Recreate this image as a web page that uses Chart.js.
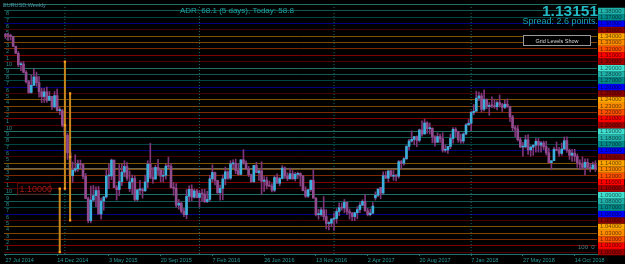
<!DOCTYPE html>
<html>
<head>
<meta charset="utf-8">
<script src="https://cdn.jsdelivr.net/npm/chart.js@4/dist/chart.umd.min.js"></script>
<style>
  html, body { margin: 0; padding: 0; background: #000; }
  canvas { display: block; }
</style>
</head>
<body>
<canvas id="chartEurusd" width="625" height="264"></canvas>
<script>
// EURUSD weekly, one candle per week from 27 Jul 2014 to 9 Dec 2018
const opens = [
  1.3428,1.3414,1.3412,1.3400,1.3243,1.3131,1.2952,1.2963,1.2832,1.2685,
  1.2515,1.2628,1.2760,1.2670,1.2526,1.2450,1.2525,1.2390,1.2455,1.2289,
  1.2465,1.2229,1.2230,
  1.2000,1.1840,1.1565,1.1205,1.1290,1.1315,1.1390,1.1380,1.1195,1.0845,
  1.0495,1.0820,1.0890,1.0970,1.0600,1.0805,1.0870,1.1200,1.1200,1.1450,
  1.1015,1.0985,1.1110,1.1260,1.1350,1.1000,1.1105,1.1160,1.0830,1.0980,
  1.0985,1.0965,1.1105,1.1385,1.1180,1.1150,1.1335,1.1295,1.1195,1.1210,
  1.1355,1.1350,1.1015,1.1005,1.0740,1.0770,1.0645,1.0590,1.0880,1.0990,
  1.0865,1.0965,
  1.0860,1.0925,1.0915,1.0795,1.0830,1.1155,1.1255,1.1130,1.0935,1.1005,
  1.1155,1.1265,1.1165,1.1390,1.1400,1.1285,1.1225,1.1455,1.1405,1.1310,
  1.1220,1.1110,1.1365,1.1250,1.1280,1.1115,1.1135,1.1050,1.1040,1.0975,
  1.1175,1.1085,1.1160,1.1325,1.1200,1.1155,1.1235,1.1155,1.1225,1.1240,
  1.1200,1.0970,1.0880,1.0985,1.1130,1.0850,1.0590,1.0590,1.0665,1.0560,
  1.0450,1.0455,
  1.0520,1.0530,1.0640,1.0700,1.0695,1.0785,1.0640,1.0615,1.0560,1.0620,
  1.0670,1.0740,1.0800,1.0650,1.0590,1.0615,1.0855,1.0895,1.1020,1.0930,
  1.1205,1.1165,1.1280,1.1195,1.1200,1.1195,1.1425,1.1400,1.1470,1.1665,
  1.1750,1.1775,1.1820,1.1760,1.1925,1.1860,1.2035,1.1945,1.1950,1.1815,
  1.1730,1.1820,1.1785,1.1605,1.1610,1.1665,1.1790,1.1935,1.1900,1.1770,
  1.1750,1.1860,1.2005,
  1.2030,1.2200,1.2220,1.2425,1.2460,1.2250,1.2405,1.2295,1.2310,1.2305,
  1.2290,1.2355,1.2320,1.2280,1.2330,1.2290,1.2130,1.1960,1.1940,1.1770,
  1.1655,1.1660,1.1770,1.1610,1.1655,1.1685,1.1745,1.1685,1.1720,1.1660,
  1.1565,1.1410,1.1440,1.1620,1.1605,1.1555,1.1625,1.1755,1.1605,1.1525,
  1.1560,1.1510,1.1405,1.1385,1.1335,1.1415,1.1335,1.1315,1.1375
];
const highs = [
  1.3445,1.3445,1.3433,1.3401,1.3245,1.3160,1.2995,1.3003,1.2860,1.2707,
  1.2791,1.2887,1.2837,1.2770,1.2580,1.2578,1.2601,1.2530,1.2456,1.2532,
  1.2570,1.2280,1.2250,
  1.2000,1.1870,1.1680,1.1420,1.1534,1.1450,1.1450,1.1390,1.1240,1.0870,
  1.1040,1.1050,1.1030,1.1035,1.0850,1.0880,1.1290,1.1390,1.1467,1.1450,
  1.1050,1.1380,1.1385,1.1440,1.1410,1.1280,1.1215,1.1200,1.0990,1.1130,
  1.1010,1.1215,1.1440,1.1715,1.1330,1.1370,1.1460,1.1300,1.1290,1.1385,
  1.1495,1.1395,1.1095,1.1080,1.0830,1.0790,1.0690,1.0985,1.1045,1.1060,
  1.0995,1.0990,
  1.0970,1.0990,1.0990,1.0960,1.1210,1.1375,1.1260,1.1130,1.1055,1.1220,
  1.1340,1.1280,1.1440,1.1455,1.1465,1.1400,1.1455,1.1615,1.1440,1.1350,
  1.1230,1.1370,1.1415,1.1300,1.1425,1.1190,1.1185,1.1120,1.1080,1.1200,
  1.1235,1.1180,1.1365,1.1345,1.1250,1.1325,1.1285,1.1255,1.1260,1.1250,
  1.1210,1.1030,1.0990,1.1140,1.1300,1.0860,1.0675,1.0700,1.0875,1.0670,
  1.0480,1.0530,
  1.0620,1.0685,1.0775,1.0775,1.0830,1.0790,1.0680,1.0625,1.0630,1.0715,
  1.0780,1.0825,1.0905,1.0690,1.0680,1.0780,1.0950,1.0995,1.1020,1.1265,
  1.1270,1.1285,1.1295,1.1295,1.1225,1.1445,1.1445,1.1490,1.1680,1.1775,
  1.1910,1.1825,1.1830,1.1940,1.2070,1.2095,1.2055,1.2035,1.1960,1.1835,
  1.1880,1.1860,1.1880,1.1690,1.1665,1.1860,1.1960,1.1960,1.1905,1.1860,
  1.1880,1.2025,1.2090,
  1.2220,1.2325,1.2535,1.2520,1.2505,1.2555,1.2415,1.2355,1.2445,1.2410,
  1.2385,1.2475,1.2345,1.2395,1.2415,1.2300,1.2155,1.1995,1.1995,1.1810,
  1.1725,1.1840,1.1850,1.1675,1.1690,1.1790,1.1790,1.1745,1.1750,1.1745,
  1.1640,1.1440,1.1655,1.1735,1.1650,1.1720,1.1815,1.1815,1.1625,1.1620,
  1.1620,1.1545,1.1455,1.1500,1.1470,1.1470,1.1400,1.1420,1.1440
];
const lows = [
  1.3366,1.3333,1.3340,1.3238,1.3131,1.2920,1.2859,1.2824,1.2667,1.2500,
  1.2502,1.2623,1.2614,1.2440,1.2357,1.2358,1.2359,1.2390,1.2247,1.2270,
  1.2220,1.2164,1.1975,
  1.1754,1.1460,1.1100,1.1100,1.1260,1.1270,1.1320,1.1155,1.0840,1.0462,
  1.0460,1.0800,1.0715,1.0600,1.0520,1.0660,1.0850,1.1000,1.1140,1.1015,
  1.0820,1.0890,1.1050,1.1190,1.1130,1.0955,1.0915,1.0810,1.0810,1.0920,
  1.0850,1.0955,1.1015,1.1155,1.1085,1.1150,1.1215,1.1105,1.1105,1.1150,
  1.1325,1.1010,1.0895,1.0705,1.0675,1.0615,1.0560,1.0525,1.0800,1.0805,
  1.0850,1.0855,
  1.0710,1.0800,1.0780,1.0780,1.0810,1.1110,1.1060,1.0925,1.0820,1.0825,
  1.1060,1.1145,1.1145,1.1330,1.1235,1.1215,1.1215,1.1385,1.1305,1.1190,
  1.1095,1.1095,1.1250,1.1130,1.0910,1.0955,1.0995,1.1030,1.0950,1.0950,
  1.1085,1.1045,1.1150,1.1160,1.1125,1.1150,1.1145,1.1120,1.1160,1.1040,
  1.0965,1.0860,1.0860,1.0955,1.0850,1.0570,1.0520,1.0565,1.0505,1.0365,
  1.0350,1.0400,
  1.0340,1.0455,1.0575,1.0660,1.0620,1.0590,1.0520,1.0495,1.0495,1.0525,
  1.0620,1.0730,1.0645,1.0570,1.0570,1.0605,1.0820,1.0875,1.0840,1.0920,
  1.1160,1.1110,1.1195,1.1130,1.1120,1.1165,1.1310,1.1370,1.1460,1.1610,
  1.1730,1.1690,1.1660,1.1735,1.1825,1.1860,1.1870,1.1860,1.1720,1.1670,
  1.1730,1.1730,1.1575,1.1575,1.1555,1.1630,1.1715,1.1815,1.1730,1.1715,
  1.1715,1.1845,1.1995,
  1.1915,1.2165,1.2215,1.2385,1.2205,1.2225,1.2260,1.2155,1.2275,1.2265,
  1.2240,1.2285,1.2215,1.2260,1.2280,1.2055,1.1910,1.1820,1.1750,1.1645,
  1.1510,1.1640,1.1540,1.1510,1.1525,1.1575,1.1575,1.1575,1.1615,1.1530,
  1.1405,1.1300,1.1440,1.1595,1.1510,1.1525,1.1615,1.1570,1.1460,1.1430,
  1.1430,1.1335,1.1300,1.1310,1.1215,1.1325,1.1265,1.1310,1.1270
];
const closes = [
  1.3414,1.3412,1.3400,1.3243,1.3131,1.2952,1.2963,1.2832,1.2685,1.2515,
  1.2628,1.2760,1.2670,1.2526,1.2450,1.2525,1.2390,1.2455,1.2289,1.2465,
  1.2229,1.2230,1.2000,
  1.1840,1.1565,1.1205,1.1290,1.1315,1.1390,1.1380,1.1195,1.0845,1.0495,
  1.0820,1.0890,1.0970,1.0600,1.0805,1.0870,1.1200,1.1200,1.1450,1.1015,
  1.0985,1.1110,1.1260,1.1350,1.1165,1.1105,1.1160,1.0830,1.0980,1.0985,
  1.0965,1.1105,1.1385,1.1180,1.1150,1.1335,1.1295,1.1195,1.1210,1.1355,
  1.1350,1.1015,1.1005,1.0740,1.0770,1.0645,1.0590,1.0880,1.0990,1.0865,
  1.0965,1.0860,
  1.0925,1.0915,1.0795,1.0830,1.1155,1.1255,1.1130,1.0935,1.1005,1.1155,
  1.1265,1.1165,1.1390,1.1400,1.1285,1.1225,1.1455,1.1405,1.1310,1.1220,
  1.1110,1.1365,1.1250,1.1280,1.1115,1.1135,1.1050,1.1040,1.0975,1.1175,
  1.1085,1.1160,1.1325,1.1200,1.1155,1.1235,1.1155,1.1225,1.1240,1.1200,
  1.0970,1.0880,1.0985,1.1130,1.0850,1.0590,1.0590,1.0665,1.0560,1.0450,
  1.0455,1.0520,
  1.0530,1.0640,1.0700,1.0695,1.0785,1.0640,1.0615,1.0560,1.0620,1.0670,
  1.0740,1.0800,1.0650,1.0590,1.0615,1.0725,1.0895,1.0995,1.0930,1.1205,
  1.1165,1.1280,1.1195,1.1200,1.1195,1.1425,1.1400,1.1470,1.1665,1.1750,
  1.1775,1.1820,1.1760,1.1925,1.1860,1.2035,1.1945,1.1950,1.1815,1.1730,
  1.1820,1.1785,1.1605,1.1610,1.1665,1.1790,1.1935,1.1900,1.1770,1.1750,
  1.1860,1.2005,1.2030,
  1.2200,1.2220,1.2425,1.2460,1.2250,1.2405,1.2295,1.2310,1.2305,1.2290,
  1.2355,1.2320,1.2280,1.2330,1.2290,1.2130,1.1960,1.1940,1.1770,1.1655,
  1.1660,1.1770,1.1610,1.1655,1.1685,1.1745,1.1685,1.1720,1.1660,1.1565,
  1.1410,1.1440,1.1620,1.1605,1.1555,1.1625,1.1755,1.1605,1.1525,1.1560,
  1.1510,1.1405,1.1385,1.1335,1.1415,1.1335,1.1315,1.1375,1.1315
];

// time axis labels (every 20 weeks)
const dateTickWeeks = [0, 20, 40, 60, 80, 100, 120, 140, 160, 180, 200, 220];
const dateTickLabels = ["27 Jul 2014", "14 Dec 2014", "3 May 2015", "20 Sep 2015",
  "7 Feb 2016", "26 Jun 2016", "13 Nov 2016", "2 Apr 2017", "20 Aug 2017",
  "7 Jan 2018", "27 May 2018", "14 Oct 2018"];

// first weekly bar of each year (period separators)
const yearStartWeeks = [23, 75, 127, 180];

// grid levels, one per 100 pips
const gridLevels = [1.00, 1.01, 1.02, 1.03, 1.04, 1.05, 1.06, 1.07, 1.08, 1.09,
  1.10, 1.11, 1.12, 1.13, 1.14, 1.15, 1.16, 1.17, 1.18, 1.19,
  1.20, 1.21, 1.22, 1.23, 1.24, 1.25, 1.26, 1.27, 1.28, 1.29,
  1.30, 1.31, 1.32, 1.33, 1.34, 1.35, 1.36, 1.37, 1.38, 1.39];
const leftLevels = gridLevels.filter(v => v > 1.005 && v < 1.385);
const topHiddenLevel = 1.39;

// colour of a level by its second decimal digit (0..9)
const levelColors = ["#a00000", "#ff0000", "#ff5000", "#ff8c00", "#ffa500",
  "#8b0000", "#0000ff", "#008b8b", "#20b2aa", "#40e0d0"];

// vertical range markers
const rangeA = [1.30, 1.20, 1.10];
const rangeB = [1.25, 1.15, 1.05];
const rangeC = [1.10, 1.00];
const rangeWeeks = { a: 23, b: 25, c: 21 };

const bidPrice = 1.13151;

const fontFamily = '"Liberation Sans", Arial, sans-serif';
Chart.defaults.font.family = fontFamily;

const xMin = -0.54, xMax = 228.63;
const yMin = 0.99705, yMax = 1.39085;

function levelDigit(v) { return Math.round(v * 100) % 10; }
function isTopHidden(v) { return Math.abs(v - topHiddenLevel) < 0.001; }
function withAlpha(hex, a) {
  const n = parseInt(hex.slice(1), 16);
  return "rgba(" + (n >> 16) + "," + ((n >> 8) & 255) + "," + (n & 255) + "," + a + ")";
}

const weekIdx = opens.map((_, i) => i);
const wickData = weekIdx.map(i => ({ x: i, y: [lows[i], highs[i]] }));
const bodyData = weekIdx.map(i => ({ x: i, y: [opens[i], closes[i]] }));

const separatorSets = yearStartWeeks.map(w => ({
  type: "line",
  data: [{ x: w, y: yMin }, { x: w, y: yMax }],
  borderColor: "#1d6a6a",
  borderWidth: 1,
  borderDash: [1, 2],
  pointRadius: 0,
  order: 10
}));

function rangeSet(week, prices) {
  return {
    type: "line",
    data: prices.map(p => ({ x: week, y: p })),
    borderColor: "#c8871c",
    borderWidth: 2,
    pointStyle: "rect",
    pointRadius: 1.6,
    pointBackgroundColor: "#ffa41f",
    pointBorderWidth: 0,
    order: 1
  };
}

const overlayText = {
  id: "overlayText",
  afterDraw(chart) {
    const c = chart.ctx;
    const y = chart.scales.y;
    c.save();
    c.textBaseline = "alphabetic";

    c.font = "5.5px " + fontFamily;
    c.fillStyle = "#4a90a0";
    c.textAlign = "left";
    c.fillText("EURUSD,Weekly", 3, 7);

    c.font = "8px " + fontFamily;
    c.fillStyle = "#1fa3a3";
    c.fillText("ADR: 68.1 (5 days), Today: 58.8", 180, 12.5);

    c.textAlign = "right";
    c.font = "bold 15.5px " + fontFamily;
    c.fillStyle = "#22b8c4";
    c.fillText("1.13151", 598, 16);
    c.font = "9px " + fontFamily;
    c.fillStyle = "#1aa2b0";
    c.fillText("Spread: 2.6 points.", 598, 24);

    // button
    c.fillStyle = "#000";
    c.fillRect(523.5, 35.5, 67, 10);
    c.strokeStyle = "#9a9a9a";
    c.lineWidth = 1;
    c.strokeRect(523.5, 35.5, 67, 10);
    c.textAlign = "center";
    c.font = "5.5px " + fontFamily;
    c.fillStyle = "#d8d8d8";
    c.fillText("Grid Levels Show", 557, 42.5);

    // 1.10000 price tag
    const py = y.getPixelForValue(1.10);
    c.strokeStyle = "#5a0c0c";
    c.strokeRect(17.5, py - 5.5, 32.5, 11);
    c.textAlign = "left";
    c.font = "9px " + fontFamily;
    c.fillStyle = "#a31a1a";
    c.fillText("1.10000", 19.5, py + 3.5);

    c.font = "6px " + fontFamily;
    c.fillStyle = "#4d7c7c";
    c.fillText("100  0", 578, 249);
    c.restore();
  }
};

new Chart(document.getElementById("chartEurusd"), {
  type: "bar",
  data: {
    datasets: [
      ...separatorSets,
      {
        type: "line",
        data: [{ x: xMin, y: bidPrice }, { x: xMax, y: bidPrice }],
        borderColor: "#77775e",
        borderWidth: 1,
        pointRadius: 0,
        order: 9
      },
      {
        data: wickData,
        backgroundColor: "#7e3579",
        barThickness: 1,
        grouped: false,
        order: 5
      },
      {
        data: bodyData,
        backgroundColor: ctx => closes[ctx.dataIndex] >= opens[ctx.dataIndex] ? "#3cb0da" : "#904c8e",
        barThickness: 2,
        minBarLength: 1,
        grouped: false,
        order: 4
      },
      rangeSet(rangeWeeks.a, rangeA),
      rangeSet(rangeWeeks.b, rangeB),
      rangeSet(rangeWeeks.c, rangeC)
    ]
  },
  options: {
    responsive: false,
    animation: false,
    devicePixelRatio: 1,
    layout: { padding: 0 },
    plugins: { legend: { display: false }, tooltip: { enabled: false } },
    scales: {
      x: {
        type: "linear",
        min: xMin,
        max: xMax,
        offset: false,
        afterBuildTicks: s => { s.ticks = dateTickWeeks.map(v => ({ value: v })); },
        ticks: {
          autoSkip: false,
          maxRotation: 0,
          align: "start",
          padding: 1,
          color: "#2a9898",
          font: { size: 5.5 },
          callback: (v, i) => dateTickLabels[i]
        },
        grid: { offset: false, drawOnChartArea: false, drawTicks: true, tickLength: 2, color: "#1f7272" },
        border: { display: true, color: "#1f7272" },
        afterFit: s => { s.height = 10; s.paddingLeft = 0; s.paddingRight = 0; }
      },
      y: {
        position: "right",
        min: yMin,
        max: yMax,
        beginAtZero: false,
        afterBuildTicks: s => { s.ticks = gridLevels.map(v => ({ value: v })); },
        ticks: {
          autoSkip: false,
          padding: 3,
          font: { size: 6, lineHeight: 1.05 },
          color: "rgba(0,0,0,0.62)",
          showLabelBackdrop: true,
          backdropColor: ctx => isTopHidden(ctx.tick.value) ? "rgba(0,0,0,0)" : levelColors[levelDigit(ctx.tick.value)],
          backdropPadding: { top: 0, bottom: 0, left: 2, right: 3 },
          callback: v => isTopHidden(v) ? "" : v.toFixed(5)
        },
        grid: {
          color: ctx => withAlpha(levelColors[levelDigit(ctx.tick.value)], 0.5),
          drawTicks: false,
          lineWidth: 1
        },
        border: { display: false },
        afterFit: s => { s.width = 28; s.paddingTop = 0; s.paddingBottom = 0; }
      },
      yLeft: {
        position: "left",
        min: yMin,
        max: yMax,
        afterBuildTicks: s => { s.ticks = leftLevels.map(v => ({ value: v })); },
        ticks: {
          autoSkip: false,
          mirror: true,
          padding: 2,
          labelOffset: 3,
          color: "#2a8c8c",
          font: { size: 5.5 },
          callback: v => { const d = levelDigit(v); return d === 0 ? "10" : String(d); }
        },
        grid: { display: false },
        border: { display: false },
        afterFit: s => { s.width = 0; s.paddingTop = 0; s.paddingBottom = 0; }
      }
    }
  },
  plugins: [overlayText]
});
</script>
</body>
</html>
